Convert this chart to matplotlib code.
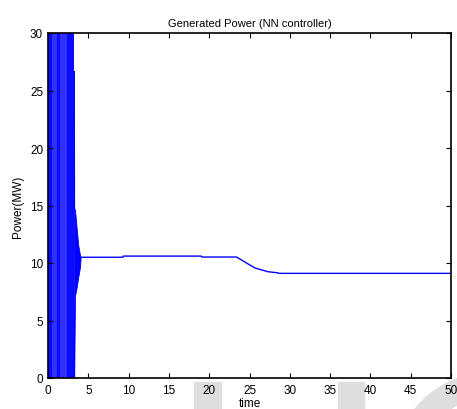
import numpy as np
import matplotlib
matplotlib.use('Agg')
import matplotlib.pyplot as plt
from matplotlib.patches import Rectangle, Wedge

plt.rcParams['font.family'] = ['Liberation Sans', 'DejaVu Sans']

# dense start-up oscillation (saturates the axis)
band_t = [0.0, 3.23]
band_hi = [35.0, 35.0]
band_lo = [0.0, 0.0]
# lighter stripes inside the dense band
stripe_lo = [0.55, 1.5]
stripe_hi = [1.1, 2.35]

# decaying envelope after the band
env_t = [3.23, 3.25, 3.35, 3.56, 3.76, 3.97, 4.05]
env_hi = [26.7, 14.8, 14.6, 13.0, 11.5, 10.7, 10.5]
env_lo = [0.0, 0.0, 7.15, 7.9, 8.8, 9.65, 10.5]

# settled power
t = [4.05, 9.3, 9.35, 19.0, 19.1, 23.4, 24.5, 25.7, 27.3, 28.5, 28.6, 50.0]
p = [10.5, 10.5, 10.6, 10.6, 10.52, 10.52, 10.05, 9.56, 9.24, 9.15, 9.1, 9.1]

fig = plt.figure(figsize=(4.57, 4.10), dpi=100)

# faint watermark shapes behind everything
wm = '#dedede'
fig.patches.append(Rectangle((194/457, 0), 27/457, 27/410, transform=fig.transFigure,
                             color=wm, zorder=-5))
fig.patches.append(Rectangle((338/457, 0), 26/457, 27/410, transform=fig.transFigure,
                             color=wm, zorder=-5))
fig.patches.append(Wedge((490, 410-470), 96, 60, 200, width=24, transform=None,
                         color=wm, zorder=-5))

ax = fig.add_axes([48/457, 31/410, 403/457, 345/410])
ax.patch.set_alpha(0)

ax.fill_between(band_t, band_lo, band_hi, color='#0a0aff', lw=0)
for a, b in zip(stripe_lo, stripe_hi):
    ax.axvspan(a, b, color='#3030ff', lw=0)
ax.fill_between(env_t, env_lo, env_hi, color='#0000ff', lw=0.6, edgecolor='#0000ff')
ax.plot(t, p, color='#0000ff', lw=1.0)

ax.set_xlim(0, 50)
ax.set_ylim(0, 30)
ax.set_xticks(np.arange(0, 51, 5))
ax.set_yticks(np.arange(0, 31, 5))
ax.tick_params(direction='in', top=True, right=True, length=3.5, width=0.8,
               labelsize=8.5)
ax.tick_params(axis='x', pad=4.5)
ax.tick_params(axis='y', pad=3.5)
for s in ax.spines.values():
    s.set_linewidth(1.2)

ax.set_title('Generated Power (NN controller)', fontsize=8, pad=5)
ax.set_xlabel('time', fontsize=8.5, labelpad=0.5)
ax.set_ylabel('Power(MW)', fontsize=8.5, labelpad=4)

fig.savefig('out.png', dpi=100)
